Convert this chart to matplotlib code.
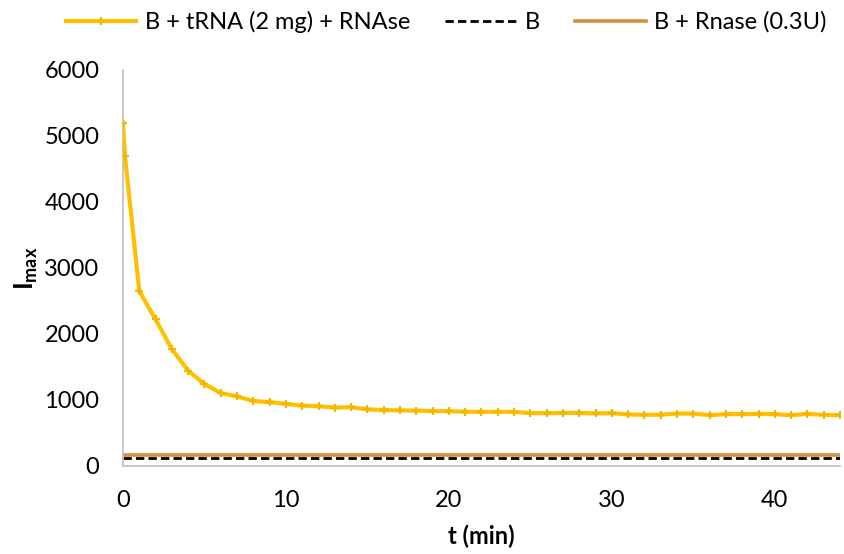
import matplotlib
matplotlib.use("Agg")
import matplotlib.pyplot as plt

plt.rcParams['font.family'] = ['Lato', 'DejaVu Sans']
plt.rcParams['mathtext.fontset'] = 'custom'
plt.rcParams['mathtext.rm'] = 'Lato'
plt.rcParams['mathtext.bf'] = 'Lato:bold'

# Data
t_trna = [0, 0.12] + list(range(1, 45))
i_trna = [5200, 4690, 2650, 2220, 1770, 1444, 1241, 1105, 1054, 985, 967,
          942, 915, 905, 885, 890, 858, 848, 842, 840, 832, 830, 823, 821,
          821, 820, 802, 800, 805, 805, 796, 800, 781, 776, 778, 795, 795,
          770, 786, 786, 790, 786, 770, 790, 775, 770]
t_flat = [0, 44]
i_b = [125, 125]
i_rnase = [160, 160]

labels = ["B + tRNA (2 mg) + RNAse", "B", "B + Rnase (0.3U)"]
x_ticks = [0, 10, 20, 30, 40]
y_ticks = [0, 1000, 2000, 3000, 4000, 5000, 6000]

yellow = "#FFC000"
orange = "#D0903F"
fs = 17

fig = plt.figure(figsize=(8.45, 5.54), dpi=100)
ax = fig.add_axes([123/845, 1-466/554, (840-123)/845, (466-70)/554])

l1, = ax.plot(t_trna, i_trna, color=yellow, lw=3.0, marker='+', ms=5.5,
              mew=1.6, mec="#F2B500", zorder=3, label=labels[0])
l3, = ax.plot(t_flat, i_rnase, color=orange, lw=2.6, zorder=2, label=labels[2])
l2, = ax.plot(t_flat, i_b, color="black", lw=2.0, ls=(0, (3, 1.5)), zorder=2,
              label=labels[1])

ax.set_xlim(0, 44)
ax.set_ylim(0, 6000)
ax.set_xticks(x_ticks)
ax.set_yticks(y_ticks)
ax.tick_params(axis='both', length=0, labelsize=fs)
ax.tick_params(axis='x', pad=17)
ax.tick_params(axis='y', pad=17)

for s in ['top', 'right']:
    ax.spines[s].set_visible(False)
for s in ['left', 'bottom']:
    ax.spines[s].set_color("#BFBFBF")
    ax.spines[s].set_linewidth(1.2)

ax.set_xlabel("t (min)", fontsize=fs, fontweight='bold', labelpad=10)
ax.set_ylabel(r"$\mathbf{I}_{\mathbf{max}}$", fontsize=18.5, labelpad=3)

handles = [l1, l2, l3]
fig.legend(handles, labels, loc='center', bbox_to_anchor=(0.528, 1 - 22/554),
           ncol=3, frameon=False, fontsize=fs, handlelength=3.0,
           handletextpad=0.35, columnspacing=1.5, borderaxespad=0)

fig.savefig("out.png", dpi=100)
